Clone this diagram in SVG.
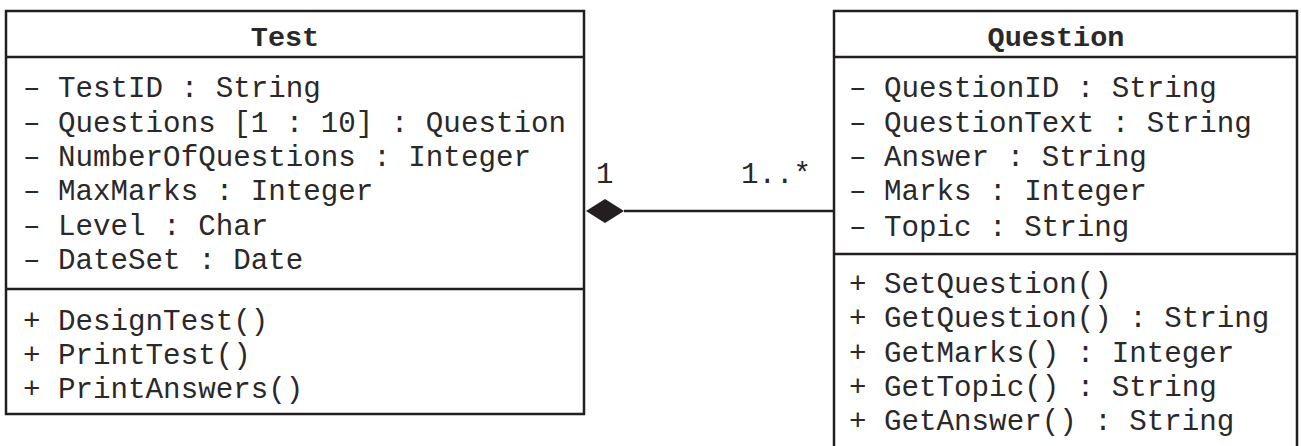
<svg xmlns="http://www.w3.org/2000/svg" width="1301" height="446" viewBox="0 0 1301 446">
<style>
.box{fill:#fff;stroke:#231f20;stroke-width:2.5}
.ln{stroke:#231f20;stroke-width:2.5;fill:none}
text{font-family:"Liberation Mono","Courier New",monospace;font-size:29.2px;fill:#2b2829}
.title{font-weight:bold;text-anchor:middle;font-size:28.5px}
</style>
<rect width="1301" height="446" fill="#fff"/>
<g id="test">
<rect class="box" x="6" y="11" width="578" height="403"/>
<line class="ln" x1="6" y1="57" x2="584" y2="57"/>
<line class="ln" x1="6" y1="289" x2="584" y2="289"/>
<text class="title" x="285" y="46">Test</text>
<text x="23" y="97">– TestID : String</text>
<text x="23" y="132">– Questions [1 : 10] : Question</text>
<text x="23" y="166">– NumberOfQuestions : Integer</text>
<text x="23" y="200">– MaxMarks : Integer</text>
<text x="23" y="235">– Level : Char</text>
<text x="23" y="269">– DateSet : Date</text>
<text x="23" y="330">+ DesignTest()</text>
<text x="23" y="364">+ PrintTest()</text>
<text x="23" y="398">+ PrintAnswers()</text>
</g>
<g id="question">
<path class="box" d="M834,450 V11 H1297 V450"/>
<line class="ln" x1="834" y1="57" x2="1297" y2="57"/>
<line class="ln" x1="834" y1="254" x2="1297" y2="254"/>
<text class="title" x="1056" y="46">Question</text>
<text x="849" y="97">– QuestionID : String</text>
<text x="849" y="132">– QuestionText : String</text>
<text x="849" y="166">– Answer : String</text>
<text x="849" y="200">– Marks : Integer</text>
<text x="849" y="236">– Topic : String</text>
<text x="849" y="293">+ SetQuestion()</text>
<text x="849" y="327">+ GetQuestion() : String</text>
<text x="849" y="362">+ GetMarks() : Integer</text>
<text x="849" y="396">+ GetTopic() : String</text>
<text x="849" y="430">+ GetAnswer() : String</text>
</g>
<g id="connectors">
<line class="ln" x1="624" y1="211" x2="834" y2="211"/>
<polygon points="586,211 605,199 624,211 605,223" fill="#231f20"/>
<text x="596" y="183">1</text>
<text x="741" y="183">1..*</text>
</g>
</svg>
